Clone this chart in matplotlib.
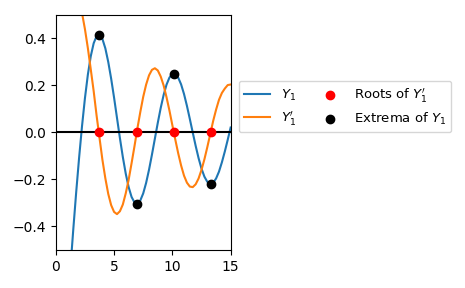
import matplotlib.pyplot as plt

x = [1.0, 1.25, 1.5, 1.75, 2.0, 2.25, 2.5, 2.75, 3.0, 3.25, 3.5, 3.75, 4.0, 4.25,
     4.5, 4.75, 5.0, 5.25, 5.5, 5.75, 6.0, 6.25, 6.5, 6.75, 7.0, 7.25, 7.5, 7.75,
     8.0, 8.25, 8.5, 8.75, 9.0, 9.25, 9.5, 9.75, 10.0, 10.25, 10.5, 10.75, 11.0,
     11.25, 11.5, 11.75, 12.0, 12.25, 12.5, 12.75, 13.0, 13.25, 13.5, 13.75, 14.0,
     14.25, 14.5, 14.75, 15.0]
y1 = [-0.7812, -0.5800, -0.4123, -0.2538, -0.1070, 0.0272, 0.1459, 0.2460, 0.3247,
      0.3798, 0.4102, 0.4158, 0.3979, 0.3581, 0.3001, 0.2288, 0.1479, 0.0619,
      -0.0238, -0.1042, -0.1750, -0.2326, -0.2741, -0.2977, -0.3027, -0.2893,
      -0.2591, -0.2143, -0.1581, -0.0940, -0.0262, 0.0412, 0.1043, 0.1595, 0.2036,
      0.2337, 0.2490, 0.2488, 0.2337, 0.2047, 0.1637, 0.1133, 0.0571, -0.0006,
      -0.0571, -0.1093, -0.1538, -0.1880, -0.2101, -0.2190, -0.2140, -0.1959,
      -0.1666, -0.1268, -0.0810, -0.0310, 0.0211]
dy1 = [0.8695, 0.7200, 0.6573, 0.6040, 0.5639, 0.5080, 0.4397, 0.3592, 0.2687,
       0.1757, 0.0718, -0.0230, -0.1164, -0.1949, -0.2614, -0.3093, -0.3381,
       -0.3474, -0.3352, -0.3066, -0.2590, -0.2012, -0.1310, -0.0587, 0.0172,
       0.0872, 0.1518, 0.2039, 0.2433, 0.2666, 0.2733, 0.2640, 0.2383, 0.2003,
       0.1498, 0.0932, 0.0308, -0.0297, -0.0883, -0.1404, -0.1837, -0.2136,
       -0.2302, -0.2325, -0.2204, -0.1957, -0.1589, -0.1140, -0.0620, -0.0068,
       0.0488, 0.0969, 0.1390, 0.1682, 0.1869, 0.2018, 0.2041]

ext_x = [3.683, 6.942, 10.123, 13.285]
ext_y = [0.4168, -0.3032, 0.2496, -0.2177]

fig = plt.figure(figsize=(4.65, 2.88), dpi=100)
ax = fig.add_axes([0.120, 0.132, 0.376, 0.816])

ax.plot(x, y1, label='$Y_1$')
ax.plot(x, dy1, label="$Y_1'$")
ax.axhline(0, color='k')
ax.scatter(ext_x, [0] * len(ext_x), color='r', zorder=3, label="Roots of $Y_1'$")
ax.scatter(ext_x, ext_y, color='k', zorder=3, label='Extrema of $Y_1$')

ax.set_xlim(0, 15)
ax.set_ylim(-0.5, 0.5)
ax.set_xticks([0, 5, 10, 15])
ax.set_yticks([-0.4, -0.2, 0.0, 0.2, 0.4])

ax.legend(ncol=2, loc='lower left', bbox_to_anchor=(1.045, 0.5), borderaxespad=0,
          fontsize=9.5, columnspacing=1.6)

fig.savefig('out.png')
